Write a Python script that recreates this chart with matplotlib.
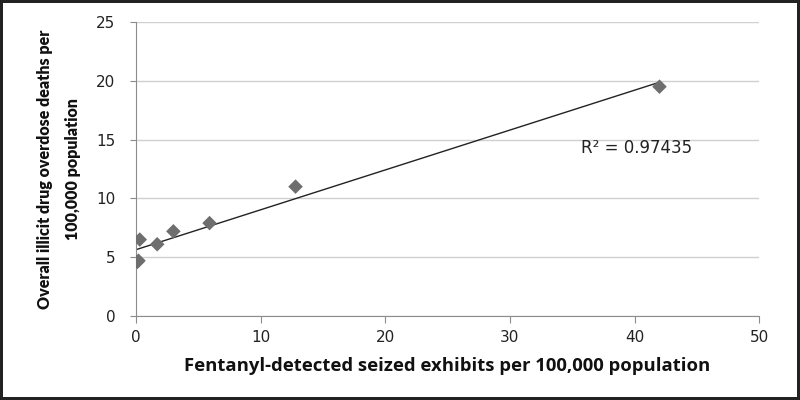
import numpy as np
import matplotlib
matplotlib.use("Agg")
import matplotlib.pyplot as plt

# Data
seized_exhibits = [0.1, 0.2, 0.3, 1.7, 3.0, 5.9, 12.8, 42.0]
overdose_deaths = [4.6, 4.7, 6.5, 6.1, 7.2, 7.9, 11.0, 19.5]
r2_label = "R² = 0.97435"
x_ticks = [0, 10, 20, 30, 40, 50]
y_ticks = [0, 5, 10, 15, 20, 25]
x_label = "Fentanyl-detected seized exhibits per 100,000 population"
y_label = "Overall illicit drug overdose deaths per\n100,000 population"

fig = plt.figure(figsize=(8, 4), dpi=100)
fig.patch.set_facecolor("white")
fig.patch.set_edgecolor("#222222")
fig.patch.set_linewidth(3)

ax = fig.add_axes([0.17, 0.21, 0.779, 0.735])
x = np.array(seized_exhibits)
y = np.array(overdose_deaths)
slope, intercept = np.polyfit(x, y, 1)
xs = np.array([x.min(), x.max()])
ax.plot(xs, slope * xs + intercept, color="#222222", lw=1.0, zorder=2)
ax.scatter(x, y, marker="D", s=55, color="#6e6e6e", edgecolors="none", zorder=3)

ax.set_xlim(0, 50)
ax.set_ylim(0, 25)
ax.set_xticks(x_ticks)
ax.set_yticks(y_ticks)
ax.yaxis.grid(True, color="#d0d0d0", lw=1)
ax.set_axisbelow(True)
for s in ["top", "right"]:
    ax.spines[s].set_visible(False)
for s in ["left", "bottom"]:
    ax.spines[s].set_color("#8c8c8c")
ax.tick_params(axis="both", direction="out", color="#8c8c8c",
               labelsize=11, labelcolor="#222222")
ax.tick_params(axis="x", length=5, pad=5)
ax.tick_params(axis="y", length=4.3, pad=10.5)

ax.text(40.2, 14.3, r2_label, ha="center", va="center", fontsize=12, color="#222222")

ax.set_xlabel(x_label, fontsize=13.3, fontweight="bold", family=["Open Sans", "DejaVu Sans"],
              labelpad=8.5, color="#111111")
ax.set_ylabel(y_label, fontsize=11.5, fontweight="heavy", family=["Lato", "DejaVu Sans"],
              labelpad=11, linespacing=1.9, color="#111111")

fig.savefig("out.png", dpi=100, facecolor=fig.get_facecolor(), edgecolor=fig.get_edgecolor())
